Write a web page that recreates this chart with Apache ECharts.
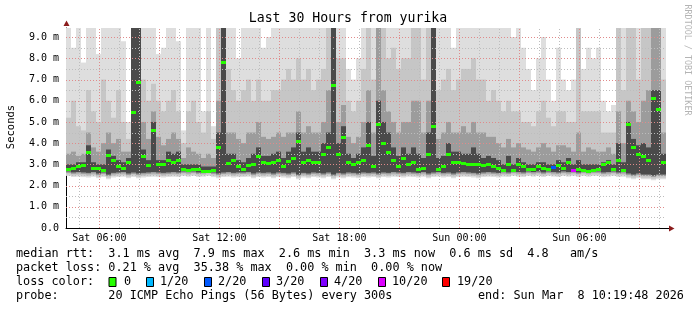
<!DOCTYPE html>
<html><head><meta charset="utf-8">
<script src="https://cdn.jsdelivr.net/npm/echarts@6/dist/echarts.min.js"></script>
<style>html,body{margin:0;padding:0;background:#fff}#c{width:697px;height:310px}</style>
</head><body><div id="c"></div>
<script>
// time axis: hours since Sat 00:00; window = last 30 hours ending Sun 10:19:48
const START_H = 4 + 19/60 + 48/3600;
const END_H = START_H + 30;
const STEP_H = 0.25; // one sample column per 15 minutes
const Y_MAX = 9.43;

const xTickHours = [6, 12, 18, 24, 30];
const xTickLabels = ['Sat 06:00', 'Sat 12:00', 'Sat 18:00', 'Sun 00:00', 'Sun 06:00'];

// median rtt (ms)
const median = [
 2.8,2.85,2.9,2.95,3.6,2.85,2.85,2.75,3.45,3.2,2.9,2.85,3.1,5.45,6.9,3.4,2.95,4.6,3.0,3.0,
 3.2,3.1,3.2,2.8,2.75,2.8,2.8,2.7,2.67,2.75,3.8,7.85,3.05,3.2,2.9,2.8,2.95,3.0,3.4,3.1,
 3.05,3.1,3.2,2.9,3.15,3.3,4.1,3.1,3.2,3.1,3.1,3.5,3.8,6.75,3.5,4.3,3.1,3.0,3.1,3.2,
 3.9,2.9,4.9,4.0,3.6,3.2,2.9,3.3,3.0,3.1,2.8,2.85,3.5,4.8,2.8,2.9,3.5,3.1,3.1,3.05,
 3.0,3.0,3.0,2.95,3.0,2.9,2.85,2.75,3.0,2.75,3.0,2.9,2.8,2.8,2.9,2.85,2.8,2.87,2.95,2.85,
 3.1,2.75,2.8,2.75,2.7,2.75,2.8,3.0,3.1,2.8,3.2,2.75,4.9,3.8,3.5,3.4,3.2,6.15,5.6,3.1
];
// [sample index, lost pings out of 20]; all other samples lost none
const lossEvents = [[97, 2], [101, 10]];

// smoke: bottom of the lightest band and tops of the four bands (light -> dark)
const smokeLo = [
 2.45,2.4,2.42,2.4,2.38,2.42,2.35,2.4,2.3,2.38,2.4,2.42,2.35,2.4,2.35,2.38,2.4,2.42,2.4,2.38,
 2.4,2.42,2.4,2.45,2.42,2.45,2.4,2.42,2.45,2.4,2.35,2.4,2.42,2.38,2.4,2.4,2.42,2.35,2.4,2.38,
 2.4,2.35,2.4,2.38,2.35,2.4,2.3,2.38,2.35,2.4,2.38,2.35,2.4,2.3,2.38,2.35,2.4,2.38,2.35,2.4,
 2.38,2.4,2.35,2.4,2.38,2.42,2.4,2.38,2.42,2.4,2.38,2.42,2.35,2.4,2.42,2.38,2.4,2.35,2.4,2.42,
 2.4,2.38,2.35,2.4,2.42,2.4,2.38,2.42,2.4,2.45,2.42,2.4,2.45,2.42,2.45,2.4,2.45,2.42,2.4,2.45,
 2.42,2.45,2.4,2.45,2.42,2.45,2.45,2.4,2.42,2.45,2.4,2.42,2.35,2.3,2.35,2.3,2.3,2.25,2.3,2.3
];
const smokeTop1 = [
 9.45,8.5,9.45,7.8,9.45,9.45,8.2,9.45,9.45,9.45,9.45,8.8,5.0,9.45,9.45,9.45,9.45,9.45,8.2,8.5,
 9.45,9.45,8.8,4.6,9.45,9.45,9.45,5.5,9.45,4.8,9.45,9.45,9.45,9.45,8.0,9.45,9.45,9.45,9.45,8.5,
 9.0,9.45,9.45,9.45,9.45,9.45,9.45,9.45,9.45,9.45,9.45,9.45,9.45,9.45,9.45,9.45,7.5,7.0,8.0,9.45,
 9.45,9.45,9.45,9.45,9.45,9.45,9.45,9.45,9.45,9.45,9.45,9.45,9.45,9.45,9.45,9.45,9.45,8.5,9.45,9.45,
 9.45,9.45,9.45,9.45,9.45,9.45,9.45,9.45,9.45,9.0,9.45,8.5,7.5,6.5,8.0,9.0,7.0,6.0,8.5,7.0,
 6.5,7.0,9.45,7.5,8.5,8.0,8.5,6.0,5.5,5.8,9.45,9.45,9.45,9.45,9.45,9.45,9.45,9.45,9.45,9.45
];
const smokeTop2 = [
 5.2,6.0,4.8,4.6,6.5,5.5,5.0,7.0,6.0,5.2,6.5,5.0,4.2,9.45,9.45,7.0,6.0,6.8,6.0,5.5,
 6.0,6.5,5.5,4.0,5.5,6.0,5.0,4.5,5.5,4.2,9.45,9.45,7.5,6.5,6.0,6.5,7.0,6.0,7.0,6.0,
 6.0,6.5,6.5,7.0,7.5,7.0,8.0,7.0,7.5,6.5,7.0,7.5,9.45,9.45,8.0,8.0,6.0,5.5,6.0,7.5,
 9.45,7.0,9.45,9.45,8.0,8.5,7.5,8.0,8.0,9.45,9.45,7.0,9.45,9.45,6.5,7.0,7.5,6.5,7.0,7.5,
 7.5,8.0,7.0,7.0,6.0,6.5,6.0,5.5,6.0,5.5,5.5,5.0,5.0,4.8,5.5,6.0,5.2,4.8,5.5,5.5,
 5.0,5.0,9.45,5.5,5.5,5.5,5.5,4.5,4.5,4.5,9.45,6.5,9.45,9.45,7.0,9.45,9.45,9.45,9.45,7.0
];
const smokeTop3 = [
 3.5,3.6,3.4,3.5,4.5,3.8,3.6,4.0,4.5,4.0,4.2,3.6,3.6,9.45,9.45,5.0,4.2,5.5,4.3,3.9,
 4.2,4.5,4.2,3.3,3.8,3.6,3.5,3.3,3.5,3.3,6.0,9.45,4.5,4.5,4.2,4.0,4.5,4.5,5.0,4.3,
 4.2,4.3,4.5,4.3,4.5,4.5,5.5,4.5,4.8,4.5,4.5,5.0,6.5,9.45,5.0,5.8,4.3,4.0,4.3,5.0,
 6.5,4.5,9.45,6.5,5.5,5.0,4.5,5.0,5.0,6.0,6.0,4.5,6.0,9.45,4.2,4.5,5.0,4.5,4.5,4.8,
 4.5,5.0,4.5,4.5,4.3,4.3,4.0,3.8,4.2,3.8,4.0,3.8,3.7,3.6,3.8,4.0,3.8,3.6,3.9,3.9,
 3.8,3.6,4.5,3.6,3.8,3.7,3.6,3.6,3.8,3.5,5.5,4.0,6.0,5.5,5.0,6.0,6.5,9.45,9.45,4.5
];
const smokeTop4 = [
 3.0,3.0,3.1,3.1,3.9,3.1,3.0,3.0,3.7,3.4,3.2,3.1,3.3,9.45,9.45,3.7,3.2,5.0,3.2,3.2,
 3.6,3.5,3.6,3.0,3.0,3.0,3.0,2.9,2.9,2.9,4.5,9.45,3.5,3.5,3.2,3.1,3.3,3.5,3.8,3.4,
 3.4,3.5,3.6,3.3,3.6,3.8,4.5,3.6,3.8,3.6,3.6,4.0,4.5,9.45,4.0,4.8,3.5,3.3,3.5,3.8,
 5.0,3.4,6.0,5.0,4.5,3.8,3.4,3.8,3.5,3.8,3.5,3.3,4.5,9.45,3.3,3.4,4.0,3.6,3.6,3.5,
 3.5,3.8,3.5,3.3,3.4,3.3,3.2,3.0,3.4,3.0,3.3,3.1,3.0,3.0,3.1,3.1,3.0,3.0,3.2,3.1,
 3.3,3.0,3.2,3.0,3.0,3.0,3.0,3.1,3.2,3.0,4.0,3.1,5.0,4.2,3.9,4.0,3.8,6.5,6.5,3.5
];

const lossColors = {0:'#26ff00',1:'#00b8ff',2:'#0059ff',3:'#5e00ff',4:'#7e00ff',10:'#dd00ff',19:'#ff0000'};
const legendItems = [['0','#26ff00'],['1/20','#00b8ff'],['2/20','#0059ff'],['3/20','#5e00ff'],['4/20','#7e00ff'],['10/20','#dd00ff'],['19/20','#ff0000']];
const SMOKE_COLORS = ['#dedede','#c6c6c6','#9c9c9c','#4a4a4a'];
const SMOKE_OFFS = [0, 0.07, 0.15, 0.22];

const lossOf = {};
lossEvents.forEach(([i, n]) => { lossOf[i] = n; });
const smokeData = median.map((m, i) => [i, smokeLo[i], smokeTop1[i], smokeTop2[i], smokeTop3[i], smokeTop4[i], m]);
const medianData = median.map((m, i) => [i, m, lossOf[i] || 0]);

// grid lines: [orientation 0=vertical 1=horizontal, value, major]
const gridData = [];
for (let h = Math.ceil(START_H); h < END_H; h++) gridData.push([0, h, h % 3 === 0 ? 1 : 0]);
for (let v = 0.5; v < Y_MAX; v += 0.5) gridData.push([1, v, Number.isInteger(v) ? 1 : 0]);

const MONO = '"DejaVu Sans Mono", monospace';
const chart = echarts.init(document.getElementById('c'), null, {renderer: 'canvas'});

function colX(api, i) {
  return [Math.round(api.coord([START_H + i * STEP_H, 0])[0]), Math.round(api.coord([START_H + (i + 1) * STEP_H, 0])[0])];
}

const option = {
  animation: false,
  backgroundColor: '#ffffff',
  grid: {left: 66, top: 28, width: 600, height: 200},
  xAxis: {
    type: 'value', min: START_H, max: END_H,
    axisLine: {show: true, lineStyle: {color: '#000', width: 1}},
    axisTick: {show: false},
    splitLine: {show: false},
    axisLabel: {
      customValues: xTickHours,
      formatter: v => { const k = xTickHours.indexOf(Math.round(v)); return k >= 0 ? xTickLabels[k] : ''; },
      fontFamily: MONO, fontSize: 10, color: '#000', margin: 5
    }
  },
  yAxis: {
    type: 'value', min: 0, max: Y_MAX, interval: 1,
    axisLine: {show: true, lineStyle: {color: '#000', width: 1}},
    axisTick: {show: false},
    splitLine: {show: false},
    axisLabel: {
      formatter: v => (v === 0 ? '0.0' : v.toFixed(1) + ' m'),
      fontFamily: MONO, fontSize: 10, color: '#000', margin: 7,
      showMaxLabel: false
    }
  },
  series: [
    {
      type: 'custom', name: 'smoke', z: 1, clip: true,
      data: smokeData,
      renderItem: (p, api) => {
        const i = api.value(0);
        const [xa, xb] = colX(api, i);
        const lo = api.value(1), med = api.value(6);
        const children = [];
        for (let k = 0; k < 4; k++) {
          const b = Math.min(lo + SMOKE_OFFS[k], med);
          const t = Math.min(api.value(2 + k), Y_MAX);
          const yb = api.coord([START_H, b])[1], yt = api.coord([START_H, t])[1];
          children.push({type: 'rect', shape: {x: xa, y: yt, width: xb - xa, height: yb - yt}, style: {fill: SMOKE_COLORS[k]}});
        }
        return {type: 'group', children};
      }
    },
    {
      type: 'custom', name: 'grid', z: 2, clip: true, silent: true,
      data: gridData,
      renderItem: (p, api) => {
        const o = api.value(0), v = api.value(1), major = api.value(2);
        let a, b;
        if (o === 0) { a = api.coord([v, 0]); b = api.coord([v, Y_MAX]); a[0] = b[0] = Math.round(a[0]) + 0.5; }
        else { a = api.coord([START_H, v]); b = api.coord([END_H, v]); a[1] = b[1] = Math.round(a[1]) + 0.5; }
        return {type: 'line', shape: {x1: a[0], y1: a[1], x2: b[0], y2: b[1]},
          style: {stroke: major ? '#e08a8a' : '#bdbdbd', lineWidth: 1, lineDash: [1, 2]}};
      }
    },
    {
      type: 'custom', name: 'median rtt', z: 3, clip: true,
      data: medianData,
      renderItem: (p, api) => {
        const i = api.value(0);
        const [xa, xb] = colX(api, i);
        const y = Math.round(api.coord([START_H, api.value(1)])[1]);
        return {type: 'rect', shape: {x: xa, y: y - 1, width: xb - xa, height: 3}, style: {fill: lossColors[api.value(2)] || '#26ff00'}};
      }
    }
  ],
  graphic: [
    {type: 'text', x: 348, y: 19, style: {text: 'Last 30 Hours from yurika', font: '13.2px ' + MONO, fill: '#000', align: 'center', verticalAlign: 'middle'}},
    {type: 'text', x: 11, y: 127, rotation: Math.PI / 2, style: {text: 'Seconds', font: '10.5px ' + MONO, fill: '#000', align: 'center', verticalAlign: 'middle'}},
    {type: 'text', x: 687, y: 60, rotation: -Math.PI / 2, style: {text: 'RRDTOOL / TOBI OETIKER', font: '8.4px ' + MONO, fill: '#b4b4b4', align: 'center', verticalAlign: 'middle'}},
    {type: 'polygon', shape: {points: [[63.5, 26], [69.5, 26], [66.5, 20.5]]}, style: {fill: '#8b1c1c'}},
    {type: 'line', shape: {x1: 666, y1: 228.5, x2: 670, y2: 228.5}, style: {stroke: '#000', lineWidth: 1}},
    {type: 'polygon', shape: {points: [[669, 225.5], [669, 231.5], [674.5, 228.5]]}, style: {fill: '#8b1c1c'}},
    {type: 'text', x: 16, y: 254.3, style: {text: 'median rtt:  3.1 ms avg  7.9 ms max  2.6 ms min  3.3 ms now  0.6 ms sd  4.8   am/s', font: '11.8px ' + MONO, fill: '#000', verticalAlign: 'middle'}},
    {type: 'text', x: 16, y: 268.3, style: {text: 'packet loss: 0.21 % avg  35.38 % max  0.00 % min  0.00 % now', font: '11.8px ' + MONO, fill: '#000', verticalAlign: 'middle'}},
    {type: 'text', x: 16, y: 282.2, style: {text: 'loss color:', font: '11.8px ' + MONO, fill: '#000', verticalAlign: 'middle'}},
    {type: 'text', x: 16, y: 296.3, style: {text: 'probe:       20 ICMP Echo Pings (56 Bytes) every 300s', font: '11.8px ' + MONO, fill: '#000', verticalAlign: 'middle'}},
    {type: 'text', x: 478, y: 296.3, style: {text: 'end: Sun Mar  8 10:19:48 2026', font: '11.8px ' + MONO, fill: '#000', verticalAlign: 'middle'}}
  ].concat((() => {
    const sqX = [109, 146.5, 204.5, 262.5, 320.5, 378.5, 442.5];
    const txX = [124, 160, 218, 276, 334, 392, 457];
    const out = [];
    legendItems.forEach(([label, col], k) => {
      out.push({type: 'rect', shape: {x: sqX[k], y: 277.5, width: 7, height: 9}, style: {fill: col, stroke: '#000', lineWidth: 1}});
      out.push({type: 'text', x: txX[k], y: 282.2, style: {text: label, font: '11.8px ' + MONO, fill: '#000', verticalAlign: 'middle'}});
    });
    return out;
  })())
};
chart.setOption(option);
</script>
</body></html>
